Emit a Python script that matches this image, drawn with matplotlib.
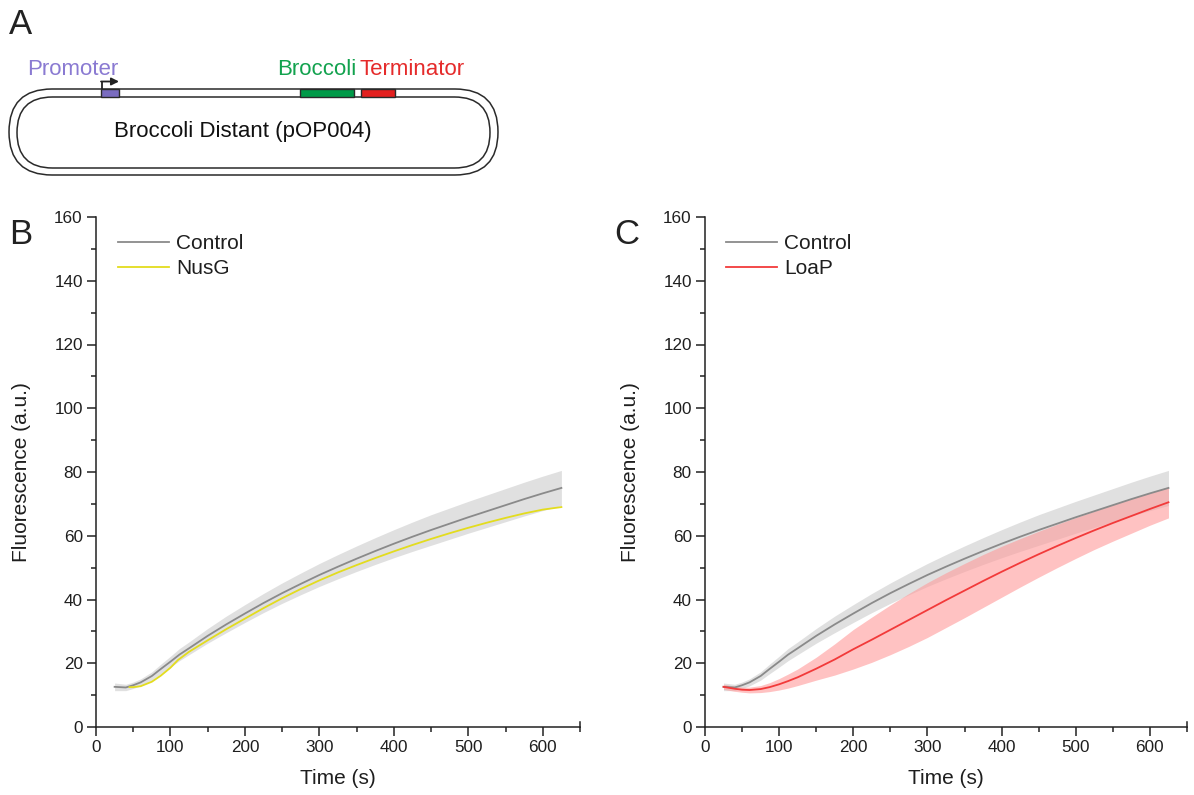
import matplotlib
matplotlib.use("Agg")
import matplotlib.pyplot as plt
import numpy as np
from matplotlib.patches import FancyBboxPatch, Rectangle, FancyArrowPatch
from matplotlib.ticker import MultipleLocator

plt.rcParams['font.family'] = ['Liberation Sans', 'DejaVu Sans']

# ---------------- data ----------------
t_ctrl = [25, 40, 50, 60, 75, 87, 100, 112, 125, 150, 175, 200, 225, 250, 275, 300,
          325, 350, 375, 400, 425, 450, 475, 500, 525, 550, 575, 600, 625]
ctrl_mean = [12.6, 12.4, 13.1, 14.0, 16.0, 18.2, 20.5, 22.7, 24.7, 28.6, 32.2, 35.6,
             38.9, 42.0, 44.9, 47.7, 50.3, 52.8, 55.2, 57.5, 59.7, 61.8, 63.8, 65.8,
             67.7, 69.6, 71.5, 73.3, 75.0]
ctrl_sd = [1.2, 1.0, 1.0, 1.1, 1.3, 1.5, 1.7, 1.9, 2.0, 2.3, 2.6, 2.8, 3.0, 3.2, 3.4,
           3.6, 3.8, 4.0, 4.2, 4.4, 4.6, 4.8, 4.9, 5.0, 5.1, 5.2, 5.3, 5.4, 5.5]

t_nusg = [45, 50, 60, 75, 87, 100, 110, 125, 150, 175, 200, 225, 250, 275, 300, 325,
          350, 375, 400, 425, 450, 475, 500, 525, 550, 575, 600, 625]
nusg_mean = [12.5, 12.5, 12.8, 14.2, 16.1, 18.6, 21.0, 23.6, 27.2, 30.7, 34.0, 37.3,
             40.4, 43.3, 46.0, 48.5, 50.8, 53.0, 55.1, 57.1, 59.0, 60.8, 62.5, 64.1,
             65.6, 67.0, 68.2, 69.0]

t_loap = [25, 40, 50, 60, 75, 87, 100, 112, 125, 150, 175, 200, 225, 250, 275, 300,
          325, 350, 375, 400, 425, 450, 475, 500, 525, 550, 575, 600, 625]
loap_mean = [12.6, 12.0, 11.7, 11.6, 11.9, 12.5, 13.4, 14.4, 15.6, 18.3, 21.2, 24.4,
             27.4, 30.5, 33.6, 36.7, 39.8, 42.8, 45.8, 48.7, 51.5, 54.2, 56.8, 59.3,
             61.7, 64.0, 66.2, 68.4, 70.5]
loap_sd = [0.8, 0.8, 0.8, 0.9, 1.1, 1.4, 1.8, 2.2, 2.6, 3.6, 4.9, 6.2, 7.1, 7.8, 8.3,
           8.6, 8.6, 8.5, 8.3, 8.0, 7.6, 7.2, 6.8, 6.4, 6.0, 5.7, 5.4, 5.1, 4.9]

x_ticks = [0, 100, 200, 300, 400, 500, 600]
y_ticks = [0, 20, 40, 60, 80, 100, 120, 140, 160]

# ---------------- figure ----------------
W, H = 1194, 795
fig = plt.figure(figsize=(W / 100, H / 100), dpi=100)

GRAY = '#8a8a8a'
GRAY_BAND = '#d6d6d6'
YELLOW = '#e3dc1e'
RED = '#f23a3a'
RED_BAND = '#ff9a9a'
TXT = '#1e1e1e'


def style_axes(ax):
    ax.set_xlim(0, 650)
    ax.set_ylim(0, 160)
    ax.spines['top'].set_visible(False)
    ax.spines['right'].set_visible(False)
    for s in ('left', 'bottom'):
        ax.spines[s].set_linewidth(1.1)
        ax.spines[s].set_color('#222222')
    ax.set_xticks(x_ticks)
    ax.set_yticks(y_ticks)
    ax.xaxis.set_minor_locator(MultipleLocator(50))
    ax.yaxis.set_minor_locator(MultipleLocator(10))
    ax.tick_params(which='major', direction='out', length=6.5, width=1.1,
                   labelsize=12.3, pad=3, colors='#222222', labelcolor=TXT)
    ax.tick_params(which='minor', direction='out', length=3.6, width=1.1,
                   colors='#222222')
    ax.set_xlabel('Time (s)', fontsize=15, color=TXT, labelpad=10)
    ax.set_ylabel('Fluorescence (a.u.)', fontsize=15, color=TXT, labelpad=17)
    ax.plot([1, 1], [0, 0.009], transform=ax.transAxes, color='#222222',
            lw=1.1, clip_on=False)


def add_legend(ax, x0_px, ax_left_px, ax_w_px):
    ax.legend(loc='upper left',
              bbox_to_anchor=((x0_px - ax_left_px) / ax_w_px, (727 - 234) / 510),
              frameon=False, fontsize=15, handlelength=2.45, handletextpad=0.35,
              labelspacing=0.3, borderpad=0, borderaxespad=0, labelcolor=TXT)


# Panel B
axB = fig.add_axes([96 / W, (H - 727) / H, (580 - 96) / W, (727 - 217) / H])
style_axes(axB)
cm = np.array(ctrl_mean); cs = np.array(ctrl_sd)
axB.fill_between(t_ctrl, cm - cs, cm + cs, color=GRAY_BAND, alpha=0.75, lw=0)
axB.plot(t_ctrl, ctrl_mean, color=GRAY, lw=1.3, label='Control')
axB.plot(t_nusg, nusg_mean, color=YELLOW, lw=1.3, label='NusG')
add_legend(axB, 118, 96, 484)

# Panel C
axC = fig.add_axes([705 / W, (H - 727) / H, (1187 - 705) / W, (727 - 217) / H])
style_axes(axC)
lm = np.array(loap_mean); ls = np.array(loap_sd)
axC.fill_between(t_ctrl, cm - cs, cm + cs, color=GRAY_BAND, alpha=0.75, lw=0)
axC.fill_between(t_loap, lm - ls, lm + ls, color=RED_BAND, alpha=0.6, lw=0)
axC.plot(t_ctrl, ctrl_mean, color=GRAY, lw=1.3, label='Control')
axC.plot(t_loap, loap_mean, color=RED, lw=1.3, label='LoaP')
add_legend(axC, 726, 705, 482)

# ---------------- panel A diagram (pixel coordinates) ----------------
axA = fig.add_axes([0, 0, 1, 1], zorder=-1)
axA.set_xlim(0, W)
axA.set_ylim(H, 0)
axA.axis('off')

outer = FancyBboxPatch((9 + 43, 132), 498 - 9 - 86, 0,
                       boxstyle='round,pad=43', fc='none', ec='#2a2a2a', lw=1.1)
inner = FancyBboxPatch((17 + 35.5, 132.5), 490 - 17 - 71, 0,
                       boxstyle='round,pad=35.5', fc='none', ec='#2a2a2a', lw=1.1)
axA.add_patch(outer)
axA.add_patch(inner)

axA.add_patch(Rectangle((101, 89), 18, 8, fc='#7a6cc0', ec='#2a2a2a', lw=1.0))
axA.add_patch(Rectangle((300, 89), 54, 8, fc='#009a48', ec='#2a2a2a', lw=1.0))
axA.add_patch(Rectangle((361, 89), 34, 8, fc='#e3201f', ec='#2a2a2a', lw=1.0))

axA.plot([101.5, 101.5], [89, 81.5], color='#222222', lw=1.3, solid_capstyle='butt')
axA.add_patch(FancyArrowPatch((101, 81.5), (119, 81.5), arrowstyle='-|>',
                              mutation_scale=11, color='#222222', lw=1.3,
                              shrinkA=0, shrinkB=0))

axA.text(27, 75, 'Promoter', fontsize=16, color='#8a7ad2', va='baseline', ha='left')
axA.text(277, 75, 'Broccoli', fontsize=16, color='#12a24e', va='baseline', ha='left')
axA.text(360, 75, 'Terminator', fontsize=16, color='#e52b2b', va='baseline', ha='left')
axA.text(243, 132, 'Broccoli Distant (pOP004)', fontsize=16, color='#111111',
         va='center', ha='center')

axA.text(9, 34, 'A', fontsize=25, color='#222222', va='baseline', ha='left')
axA.text(9, 244, 'B', fontsize=25, color='#222222', va='baseline', ha='left')
axA.text(614, 244, 'C', fontsize=25, color='#222222', va='baseline', ha='left')

fig.savefig('out.png', dpi=100)
